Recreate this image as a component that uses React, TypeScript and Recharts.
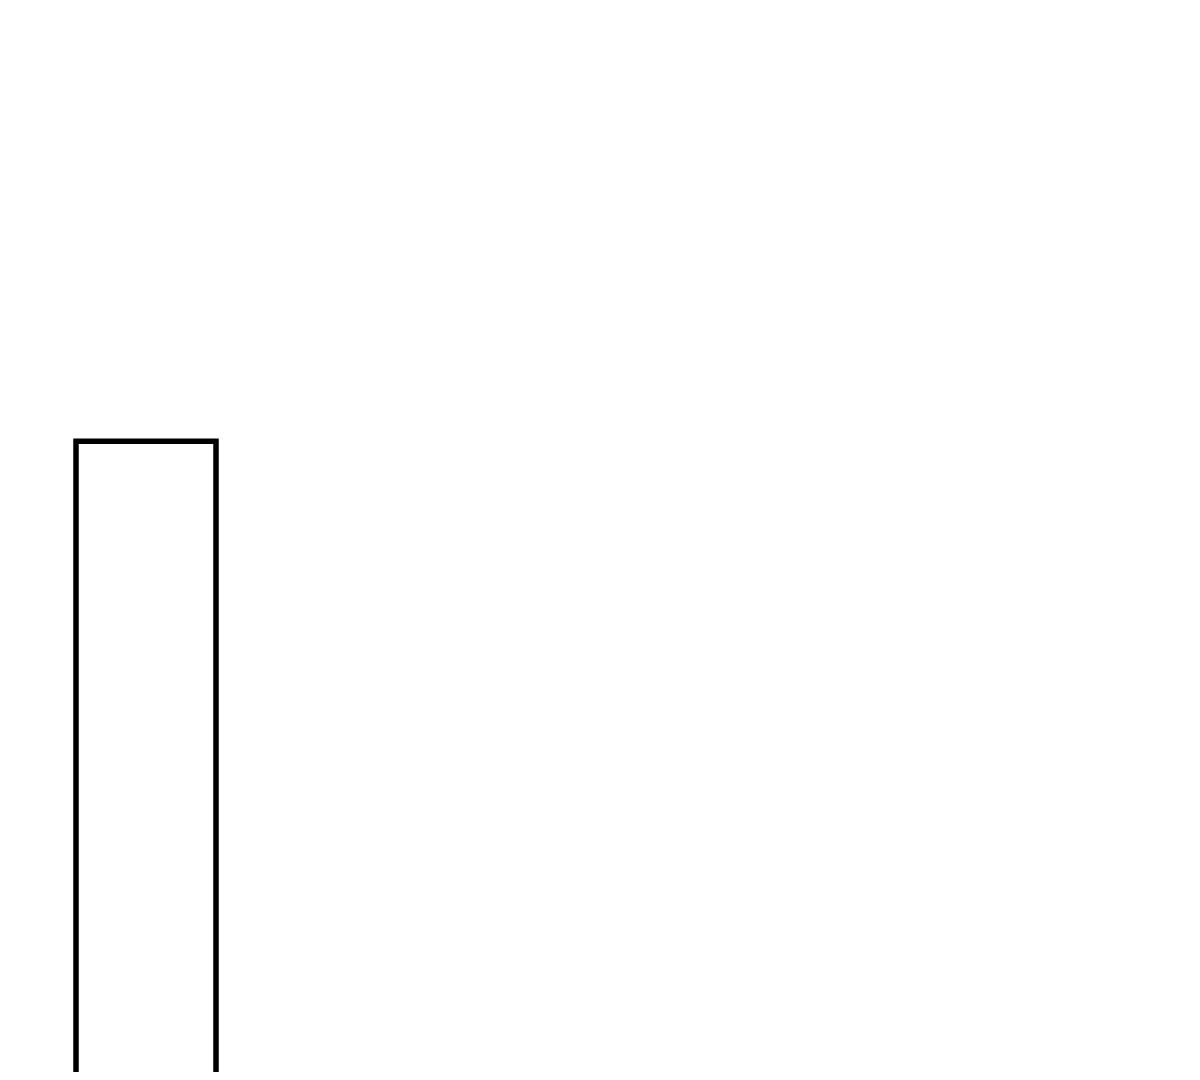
import { BarChart, Bar, XAxis, YAxis } from 'recharts'

const categories = ['A']
const values = [63.9]

const data = categories.map((name, i) => ({ name, value: values[i] }))

export default function App() {
    return (
        <div style={{ width: 1184, height: 1064, overflow: 'visible' }}>
            <BarChart width={276} height={1200} data={data} margin={{ top: 0, right: 0, bottom: 0, left: 0 }}>
                <XAxis dataKey="name" hide />
                <YAxis hide domain={[0, 100]} />
                <Bar
                    dataKey="value"
                    fill="#ffffff"
                    stroke="#000000"
                    strokeWidth={5.5}
                    barSize={140}
                    isAnimationActive={false}
                />
            </BarChart>
        </div>
    )
}
